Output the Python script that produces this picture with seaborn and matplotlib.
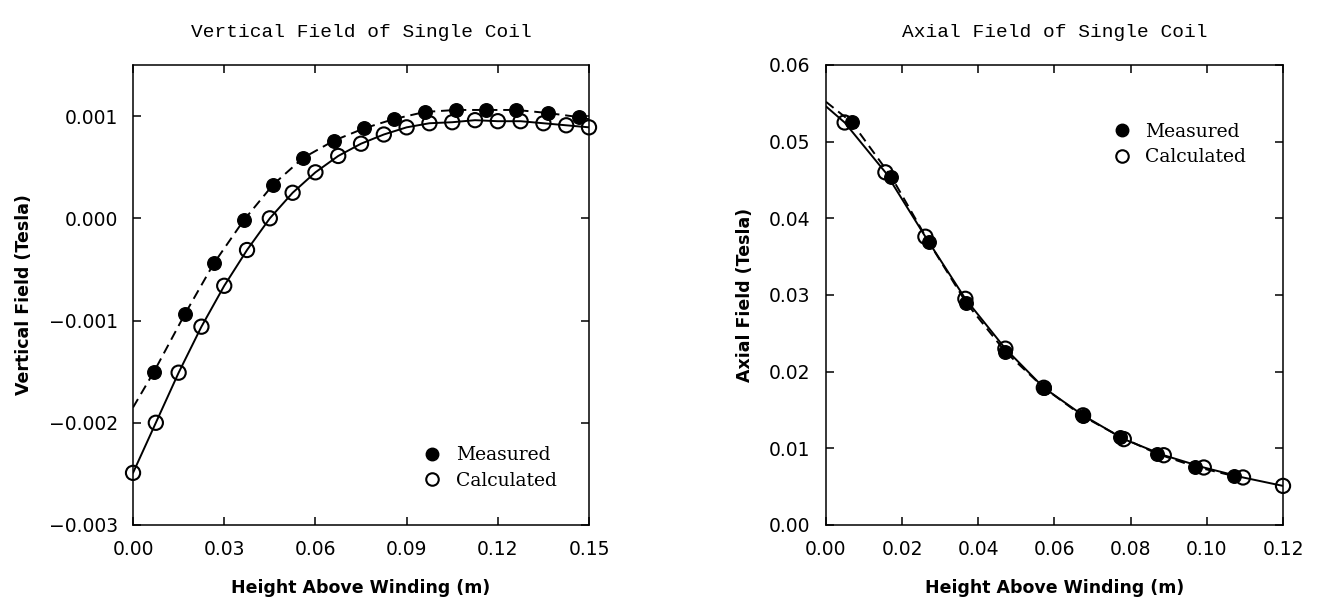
import numpy as np
import pandas as pd
import matplotlib
matplotlib.use("Agg")
import matplotlib.pyplot as plt
from matplotlib.ticker import FuncFormatter
from matplotlib.lines import Line2D
import seaborn as sns

# --- Vertical field (left panel) ---
vert_meas_x = [0.0069, 0.0170, 0.0266, 0.0364, 0.0461, 0.0559, 0.0661, 0.0760,
               0.0857, 0.0959, 0.1061, 0.1160, 0.1261, 0.1365, 0.1467]
vert_meas_y = [-0.00150, -0.00094, -0.00044, -0.00002, 0.00033, 0.00059, 0.00076, 0.00088,
               0.00097, 0.00104, 0.00106, 0.00106, 0.00106, 0.00103, 0.00099]
vert_calc_x = [0.0000, 0.0075, 0.0150, 0.0225, 0.0300, 0.0375, 0.0450, 0.0525, 0.0600,
               0.0675, 0.0750, 0.0825, 0.0900, 0.0975, 0.1050, 0.1125, 0.1200, 0.1275,
               0.1350, 0.1425, 0.1500]
vert_calc_y = [-0.00249, -0.00200, -0.00151, -0.00106, -0.00066, -0.00031, 0.00000, 0.00025,
               0.00045, 0.00061, 0.00073, 0.00082, 0.00089, 0.00093, 0.00094, 0.00096,
               0.00095, 0.00095, 0.00093, 0.00091, 0.00089]
# dashed fit through measured data, extended to both axis limits
vert_fit_x = [0.0] + vert_meas_x + [0.15]
vert_fit_y = [-0.00185] + vert_meas_y + [0.00097]

# --- Axial field (right panel) ---
ax_meas_x = [0.0068, 0.0172, 0.0270, 0.0368, 0.0471, 0.0572, 0.0674, 0.0773,
             0.0869, 0.0970, 0.1070]
ax_meas_y = [0.0525, 0.0454, 0.0369, 0.0290, 0.0226, 0.0179, 0.0142, 0.0115,
             0.0093, 0.0076, 0.0064]
ax_calc_x = [0.0049, 0.0156, 0.0261, 0.0366, 0.0471, 0.0572, 0.0675, 0.0782,
             0.0887, 0.0992, 0.1095, 0.1200]
ax_calc_y = [0.0525, 0.0460, 0.0376, 0.0295, 0.0230, 0.0179, 0.0143, 0.0112,
             0.0091, 0.0075, 0.0062, 0.0051]
ax_fit_meas_x = [0.0] + ax_meas_x
ax_fit_meas_y = [0.0552] + ax_meas_y
ax_fit_calc_x = [0.0] + ax_calc_x
ax_fit_calc_y = [0.0546] + ax_calc_y

sns.set_style("ticks")
plt.rcParams['font.family'] = ['DejaVu Sans']
plt.rcParams['axes.linewidth'] = 1.1
for key in ['text.color', 'axes.labelcolor', 'xtick.color', 'ytick.color', 'axes.edgecolor']:
    plt.rcParams[key] = 'black'

fig = plt.figure(figsize=(13.29, 6.0), dpi=100)
ax1 = fig.add_axes([0.1001, 0.125, 0.3431, 0.7667])
ax2 = fig.add_axes([0.6215, 0.125, 0.3439, 0.7667])

title_font = dict(family='Liberation Mono', fontsize=14)
label_font = dict(family='DejaVu Sans', fontsize=12.5, fontweight='bold')
legend_font = dict(family='DejaVu Serif', size=13.5)

dash = (0, (5, 3))


def fmt(decimals):
    return FuncFormatter(lambda v, pos: f'{v:.{decimals}f}'.replace('-', '\u2212'))


def draw_panel(ax, fits, meas_x, meas_y, calc_x, calc_y):
    for fx, fy, ls in fits:
        sns.lineplot(x=fx, y=fy, ax=ax, color='black', lw=1.4, linestyle=ls,
                     sort=False, estimator=None, zorder=2)
    sns.scatterplot(x=meas_x, y=meas_y, ax=ax, color='black', s=95,
                    edgecolor='black', linewidth=1.0, zorder=3, clip_on=False)
    sns.scatterplot(x=calc_x, y=calc_y, ax=ax, facecolor='none', s=105,
                    edgecolor='black', linewidth=1.5, zorder=4, clip_on=False)
    ax.tick_params(direction='in', top=True, right=True, length=6, width=1.1,
                   labelsize=13.5, pad=11, colors='black')
    for spine in ax.spines.values():
        spine.set_visible(True)
        spine.set_linewidth(1.1)
        spine.set_color('black')


draw_panel(ax1,
           [(vert_fit_x, vert_fit_y, dash), (vert_calc_x, vert_calc_y, '-')],
           vert_meas_x, vert_meas_y, vert_calc_x, vert_calc_y)
ax1.set_xlim(0, 0.15)
ax1.set_ylim(-0.003, 0.0015)
ax1.set_xticks([0.0, 0.03, 0.06, 0.09, 0.12, 0.15])
ax1.set_yticks([-0.003, -0.002, -0.001, 0.0, 0.001])
ax1.xaxis.set_major_formatter(fmt(2))
ax1.yaxis.set_major_formatter(fmt(3))
ax1.set_title('Vertical Field of Single Coil', pad=20, **title_font)
ax1.set_xlabel('Height Above Winding (m)', labelpad=14, **label_font)
ax1.set_ylabel('Vertical Field (Tesla)', labelpad=11, **label_font)

draw_panel(ax2,
           [(ax_fit_meas_x, ax_fit_meas_y, dash), (ax_fit_calc_x, ax_fit_calc_y, '-')],
           ax_meas_x, ax_meas_y, ax_calc_x, ax_calc_y)
ax2.set_xlim(0, 0.12)
ax2.set_ylim(0, 0.06)
ax2.set_xticks([0.0, 0.02, 0.04, 0.06, 0.08, 0.10, 0.12])
ax2.set_yticks([0.0, 0.01, 0.02, 0.03, 0.04, 0.05, 0.06])
ax2.xaxis.set_major_formatter(fmt(2))
ax2.yaxis.set_major_formatter(fmt(2))
ax2.set_title('Axial Field of Single Coil', pad=20, **title_font)
ax2.set_xlabel('Height Above Winding (m)', labelpad=14, **label_font)
ax2.set_ylabel('Axial Field (Tesla)', labelpad=11, **label_font)

handles = [
    Line2D([], [], marker='o', ls='none', color='black', markersize=9),
    Line2D([], [], marker='o', ls='none', markerfacecolor='none',
           markeredgecolor='black', markeredgewidth=1.5, markersize=9),
]
names = ['Measured', 'Calculated']
ax1.legend(handles, names, loc='center left', bbox_to_anchor=(0.636, 0.124),
           frameon=False, prop=legend_font, handlelength=1.0, handletextpad=0.75,
           borderpad=0, borderaxespad=0, labelspacing=0.38)
ax2.legend(handles, names, loc='center left', bbox_to_anchor=(0.627, 0.827),
           frameon=False, prop=legend_font, handlelength=1.0, handletextpad=0.75,
           borderpad=0, borderaxespad=0, labelspacing=0.38)

fig.savefig('out.png', dpi=100)
